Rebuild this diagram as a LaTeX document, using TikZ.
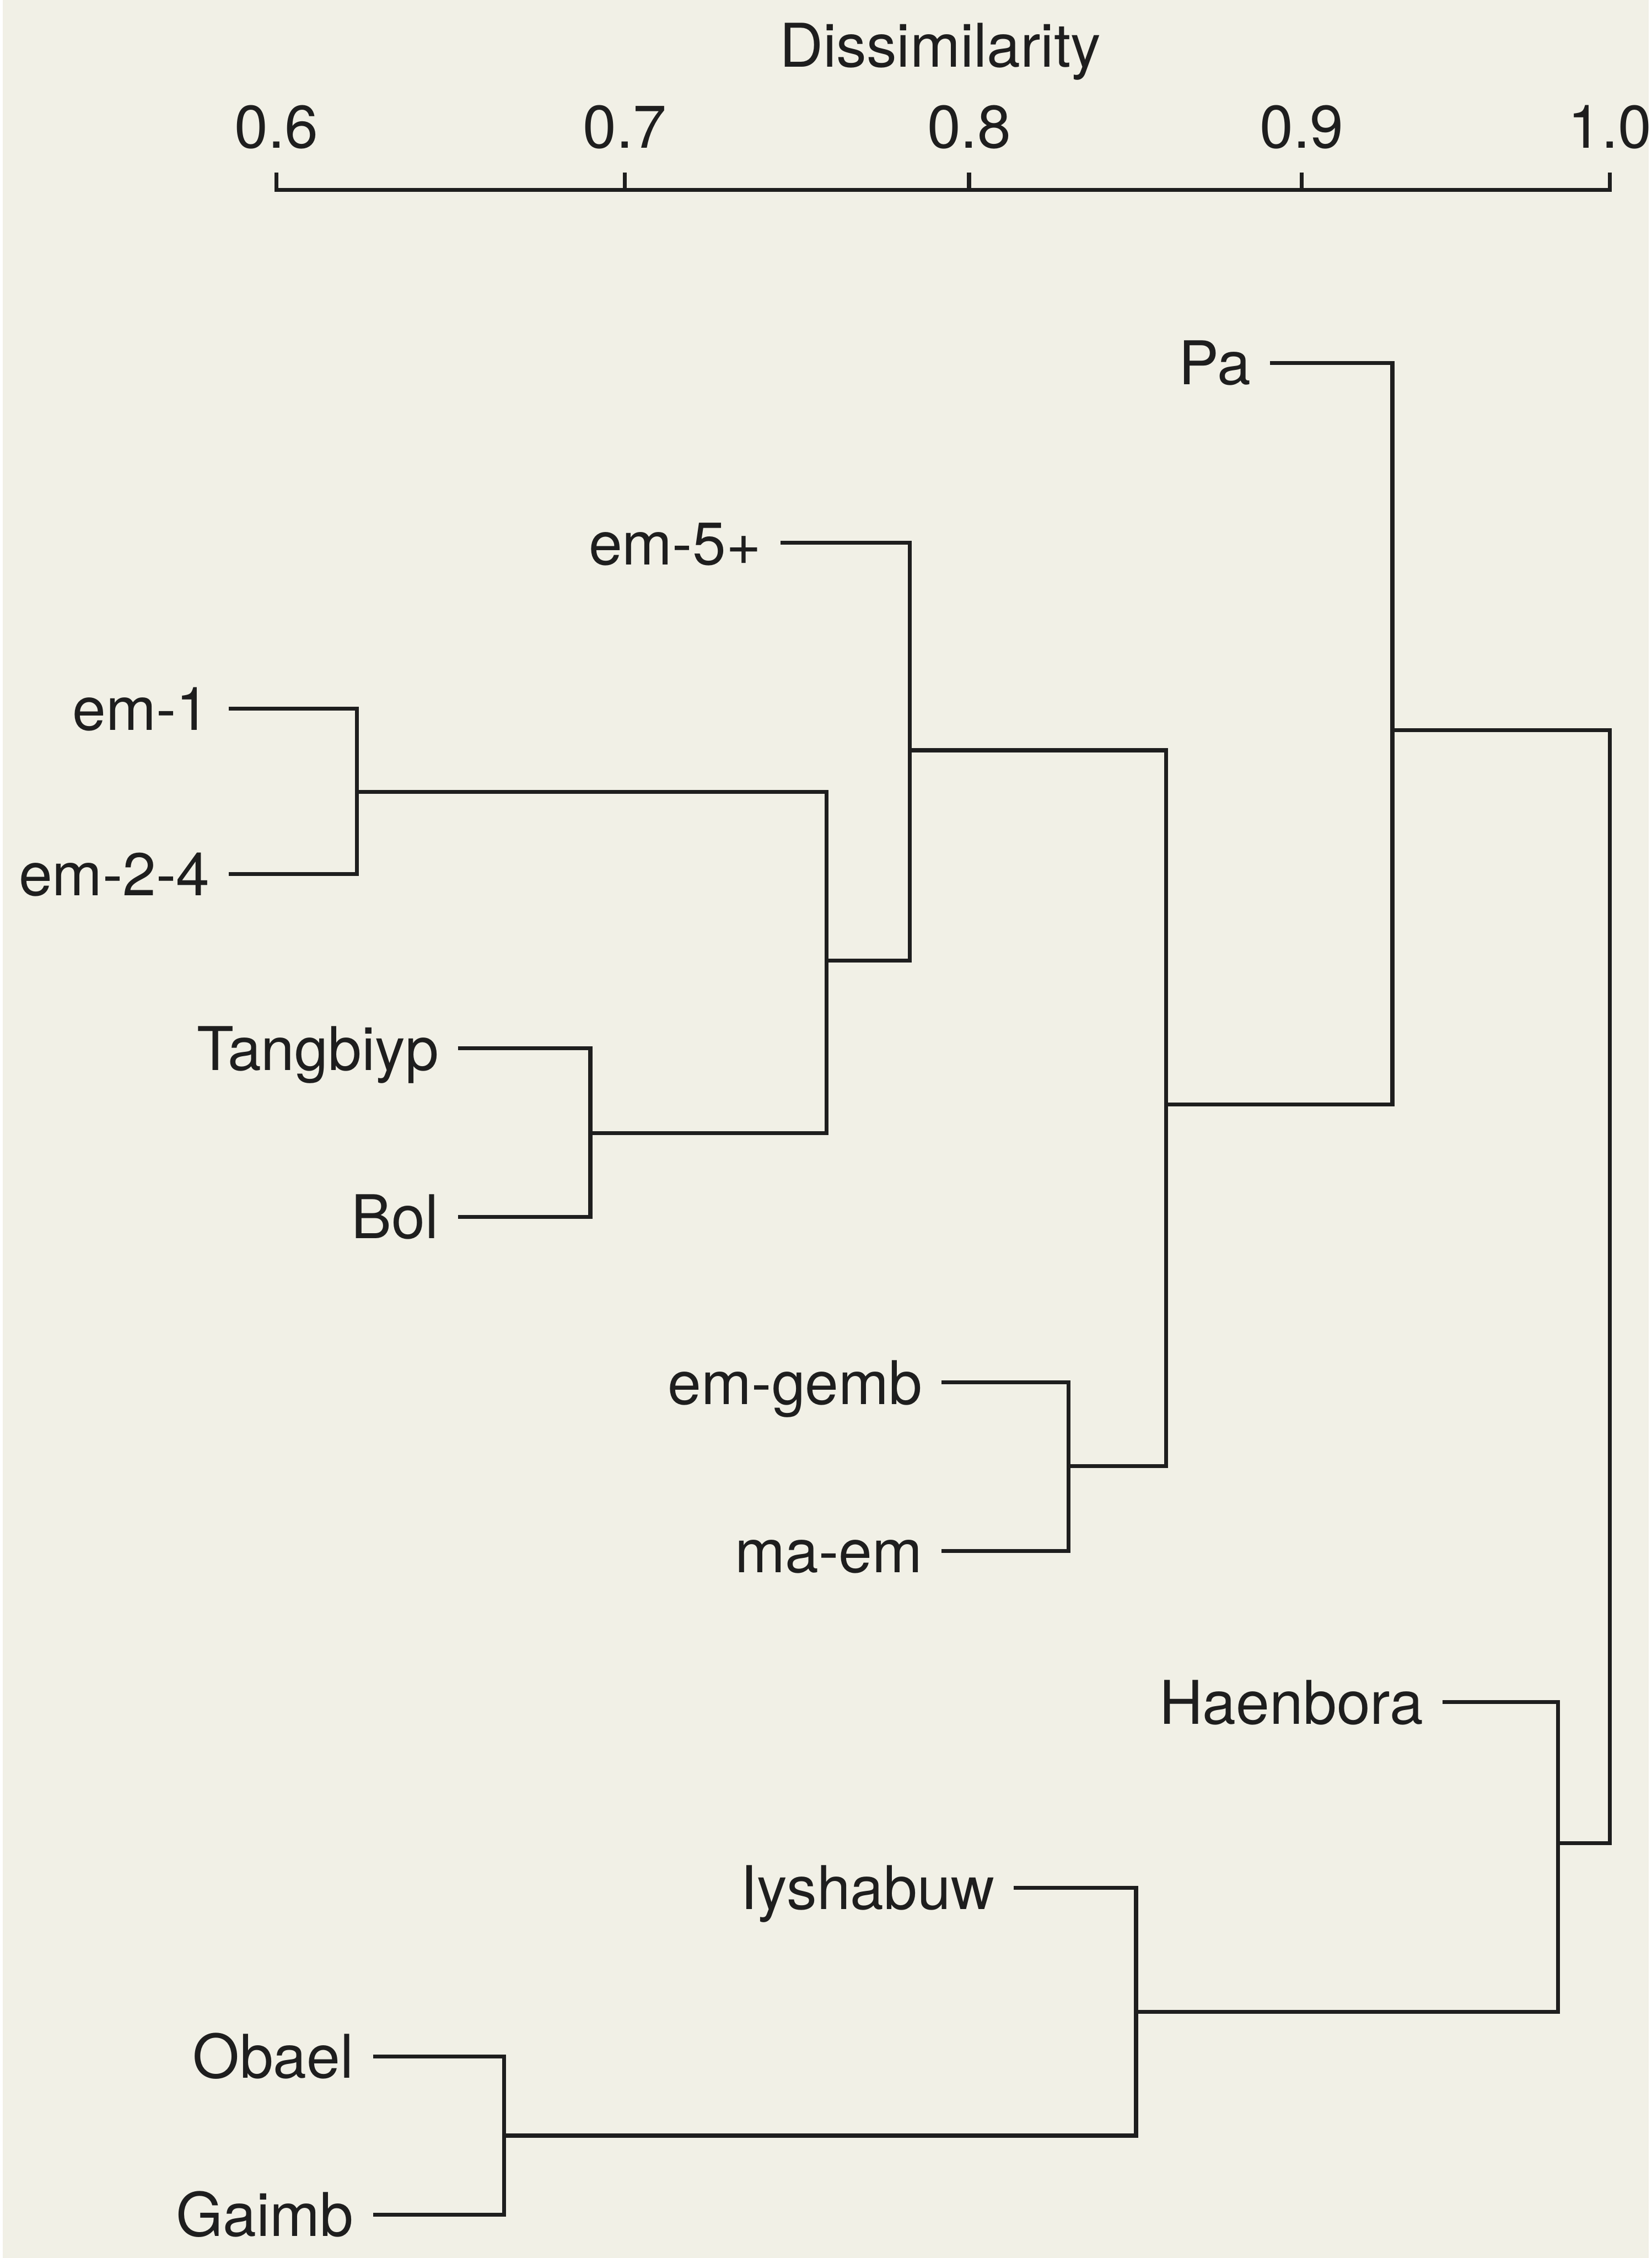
\documentclass[tikz,border=0pt]{standalone}
\usepackage{fontspec}
\setmainfont{TeX Gyre Heros}
\usetikzlibrary{positioning}
\definecolor{paper}{RGB}{241,240,230}
\definecolor{ink}{RGB}{30,30,30}

\begin{document}
\begin{tikzpicture}[
        x=0.026877cm, y=-0.026877cm,
        every node/.style={font=\fontsize{32}{38}\selectfont, text=ink},
        leaf/.style={anchor=east, inner xsep=10pt, inner ysep=0pt, text height=23pt, text depth=0pt},
        ticklab/.style={inner sep=0pt, text height=23pt, text depth=0pt},
        link/.style={draw=ink, line width=2.1pt}
    ]

    % Paper
    \fill[paper] (0,0) rectangle (1143,1568);

    % Axis
    \node (title) at (651,36) {Dissimilarity};
    \foreach \lab/\px [count=\i] in {0.6/190, 0.7/432, 0.8/671, 0.9/902, 1.0/1116} {
        \coordinate (tick\i) at (\px,120);
        \node[ticklab, above=13pt of tick\i] (lab\i) {\lab};
    }
    \draw[link] (tick1) -- (tick1 |- 0,132) -- (tick5 |- 0,132) -- (tick5);
    \foreach \i in {2,3,4} \draw[link] (tick\i) -- (tick\i |- 0,132);

    % Leaves
    \node[leaf] (pa)     at (880,252)  {Pa};
    \node[leaf] (em5)    at (540,377)  {em-5+};
    \node[leaf] (em1)    at (157,492)  {em-1};
    \node[leaf] (em24)   at (157,607)  {em-2-4};
    \node[leaf] (tang)   at (316,728)  {Tangbiyp};
    \node[leaf] (bol)    at (316,845)  {Bol};
    \node[leaf] (gemb)   at (652,960)  {em-gemb};
    \node[leaf] (maem)   at (652,1077) {ma-em};
    \node[leaf] (haen)   at (1000,1182){Haenbora};
    \node[leaf] (iysh)   at (702,1311) {Iyshabuw};
    \node[leaf] (obael)  at (257,1428) {Obael};
    \node[leaf] (gaimb)  at (257,1538) {Gaimb};

    % Joins
    \coordinate (jEm)    at (246,550);
    \coordinate (jTang)  at (408,787);
    \coordinate (jLow)   at (572,667);
    \coordinate (jFive)  at (630,521);
    \coordinate (jGemb)  at (740,1018);
    \coordinate (jMid)   at (808,767);
    \coordinate (jPa)    at (965,507);
    \coordinate (jObael) at (348,1483);
    \coordinate (jIysh)  at (787,1397);
    \coordinate (jHaen)  at (1080,1280);
    \coordinate (jRoot)  at (1116,900);

    % Branches
    \draw[link] (em1.east) -| (jEm) |- (em24.east);
    \draw[link] (tang.east) -| (jTang) |- (bol.east);
    \draw[link] (jEm) -| (jLow) |- (jTang);
    \draw[link] (em5.east) -| (jFive) |- (jLow);
    \draw[link] (gemb.east) -| (jGemb) |- (maem.east);
    \draw[link] (jFive) -| (jMid) |- (jGemb);
    \draw[link] (pa.east) -| (jPa) |- (jMid);
    \draw[link] (obael.east) -| (jObael) |- (gaimb.east);
    \draw[link] (iysh.east) -| (jIysh) |- (jObael);
    \draw[link] (haen.east) -| (jHaen) |- (jIysh);
    \draw[link] (jPa) -| (jRoot) |- (jHaen);

\end{tikzpicture}
\end{document}
